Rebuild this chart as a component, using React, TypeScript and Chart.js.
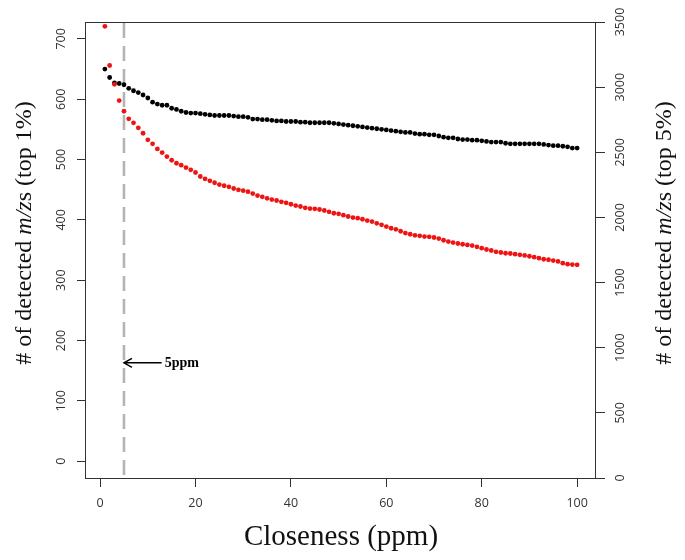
import React, { useEffect, useRef } from "react";
import { Chart, registerables } from "chart.js";

Chart.register(...registerables);

// Closeness threshold (ppm) on the x axis
const closenessPpm = [
  1, 2, 3, 4, 5, 6, 7, 8, 9, 10, 11, 12, 13, 14, 15, 16, 17, 18, 19, 20,
  21, 22, 23, 24, 25, 26, 27, 28, 29, 30, 31, 32, 33, 34, 35, 36, 37, 38, 39, 40,
  41, 42, 43, 44, 45, 46, 47, 48, 49, 50, 51, 52, 53, 54, 55, 56, 57, 58, 59, 60,
  61, 62, 63, 64, 65, 66, 67, 68, 69, 70, 71, 72, 73, 74, 75, 76, 77, 78, 79, 80,
  81, 82, 83, 84, 85, 86, 87, 88, 89, 90, 91, 92, 93, 94, 95, 96, 97, 98, 99, 100,
];

// Black series: # of detected m/zs (top 1%), left axis
const top1Counts = [
  650, 636, 627, 626, 624, 618, 614, 611, 607, 602, 595, 592, 590, 590, 585, 583, 580, 578, 577, 577,
  576, 575, 574, 573, 573, 573, 573, 572, 571, 571, 570, 567, 567, 566, 566, 565, 564, 564, 563, 563,
  563, 562, 562, 561, 561, 561, 561, 561, 560, 559, 558, 557, 556, 555, 554, 553, 552, 551, 550, 549,
  548, 547, 546, 545, 545, 543, 542, 542, 541, 541, 539, 537, 536, 536, 534, 533, 533, 532, 532, 531,
  530, 529, 529, 529, 527, 526, 526, 526, 526, 526, 526, 526, 525, 524, 523, 523, 522, 521, 519, 519,
];

// Red series: # of detected m/zs (top 5%), right axis
const top5Counts = [
  3467, 3166, 3022, 2897, 2815, 2757, 2726, 2688, 2646, 2596, 2565, 2526, 2498, 2467, 2439, 2416, 2401, 2383, 2365, 2345,
  2314, 2296, 2281, 2266, 2252, 2243, 2235, 2222, 2212, 2205, 2198, 2183, 2168, 2158, 2147, 2137, 2130, 2120, 2112, 2101,
  2091, 2084, 2074, 2068, 2066, 2061, 2053, 2043, 2032, 2028, 2017, 2007, 1999, 1994, 1986, 1976, 1968, 1955, 1943, 1930,
  1917, 1909, 1894, 1880, 1871, 1863, 1859, 1853, 1851, 1846, 1838, 1825, 1815, 1807, 1800, 1794, 1789, 1784, 1774, 1764,
  1754, 1746, 1736, 1731, 1725, 1723, 1718, 1713, 1708, 1702, 1695, 1687, 1679, 1675, 1669, 1662, 1649, 1641, 1638, 1636,
];

const xTickValues = [0, 20, 40, 60, 80, 100];
const leftTickValues = [0, 100, 200, 300, 400, 500, 600, 700];
const rightTickValues = [0, 500, 1000, 1500, 2000, 2500, 3000, 3500];

const cutoffPpm = 5;
const arrowLevel = 163; // left-axis value where the arrow sits
const arrowTailPpm = 12.9;
const annotationText = "5ppm";

const TICK_FONT = '"Open Sans", "Liberation Sans", sans-serif';
const SERIF = '"Liberation Serif", "Times New Roman", serif';
const AXIS_COLOR = "#333333";

function drawMixed(ctx: CanvasRenderingContext2D, parts: [string, boolean][], size: number) {
  const fontFor = (it: boolean) => `${it ? "italic " : ""}${size}px ${SERIF}`;
  let total = 0;
  const widths = parts.map(([t, it]) => {
    ctx.font = fontFor(it);
    const w = ctx.measureText(t).width;
    total += w;
    return w;
  });
  let x = -total / 2;
  ctx.textAlign = "left";
  ctx.textBaseline = "alphabetic";
  parts.forEach(([t, it], i) => {
    ctx.font = fontFor(it);
    ctx.fillText(t, x, 0);
    x += widths[i];
  });
}

const overlayPlugin = {
  id: "overlay",
  beforeDatasetsDraw(chart: any) {
    const { ctx, chartArea: a, scales } = chart;
    const x = scales.x.getPixelForValue(cutoffPpm);
    ctx.save();
    ctx.strokeStyle = "#b4b4b4";
    ctx.lineWidth = 2.6;
    ctx.setLineDash([15, 8]);
    ctx.beginPath();
    ctx.moveTo(x, a.top + 1);
    ctx.lineTo(x, a.bottom);
    ctx.stroke();
    ctx.restore();
  },
  afterDraw(chart: any) {
    const { ctx, chartArea: a, scales } = chart;
    ctx.save();
    // frame box
    ctx.strokeStyle = AXIS_COLOR;
    ctx.lineWidth = 1;
    ctx.strokeRect(a.left - 0.5, a.top + 0.5, a.right - a.left, a.bottom - a.top);

    // y tick labels (rotated, R style)
    ctx.fillStyle = AXIS_COLOR;
    ctx.font = `12.5px ${TICK_FONT}`;
    const drawYLabels = (scale: any, cx: number) => {
      scale.ticks.forEach((t: any) => {
        const y = scale.getPixelForValue(t.value);
        ctx.save();
        ctx.translate(cx, y);
        ctx.rotate(-Math.PI / 2);
        ctx.textAlign = "center";
        ctx.textBaseline = "middle";
        ctx.fillText(String(t.value), 0, 0);
        ctx.restore();
      });
    };
    drawYLabels(scales.y, 61);
    drawYLabels(scales.y2, 620);

    // axis titles
    ctx.fillStyle = "#111111";
    const midY = 233;
    ctx.save();
    ctx.translate(31, midY);
    ctx.rotate(-Math.PI / 2);
    drawMixed(ctx, [["# of detected ", false], ["m/z", true], ["s (top 1%)", false]], 24);
    ctx.restore();

    ctx.save();
    ctx.translate(671, midY);
    ctx.rotate(-Math.PI / 2);
    drawMixed(ctx, [["# of detected ", false], ["m/z", true], ["s (top 5%)", false]], 24);
    ctx.restore();

    ctx.save();
    ctx.translate((a.left + a.right) / 2, 545);
    drawMixed(ctx, [["Closeness (ppm)", false]], 29);
    ctx.restore();

    // arrow + annotation
    const tipX = scales.x.getPixelForValue(cutoffPpm);
    const tailX = scales.x.getPixelForValue(arrowTailPpm);
    const ay = scales.y.getPixelForValue(arrowLevel);
    ctx.strokeStyle = "#000000";
    ctx.lineWidth = 1.5;
    ctx.beginPath();
    ctx.moveTo(tailX, ay);
    ctx.lineTo(tipX, ay);
    ctx.moveTo(tipX + 8, ay - 4.5);
    ctx.lineTo(tipX, ay);
    ctx.lineTo(tipX + 8, ay + 4.5);
    ctx.stroke();
    ctx.fillStyle = "#000000";
    ctx.font = `bold 14px ${SERIF}`;
    ctx.textAlign = "left";
    ctx.textBaseline = "alphabetic";
    ctx.fillText(annotationText, tailX + 3, ay + 4.5);
    ctx.restore();
  },
};

export default function App() {
  const canvasRef = useRef<HTMLCanvasElement | null>(null);

  useEffect(() => {
    const canvas = canvasRef.current;
    if (!canvas) return;
    const redPts = closenessPpm.map((x, i) => ({ x, y: top5Counts[i] }));
    const blackPts = closenessPpm.map((x, i) => ({ x, y: top1Counts[i] }));
    const chart = new Chart(canvas, {
      type: "scatter",
      data: {
        datasets: [
          {
            label: "top 5%",
            data: redPts,
            yAxisID: "y2",
            pointRadius: 2.4,
            pointBorderWidth: 0,
            pointBackgroundColor: "#ee1414",
            pointBorderColor: "#ee1414",
            showLine: false,
          },
          {
            label: "top 1%",
            data: blackPts,
            yAxisID: "y",
            pointRadius: 2.4,
            pointBorderWidth: 0,
            pointBackgroundColor: "#000000",
            pointBorderColor: "#000000",
            showLine: false,
          },
        ],
      },
      options: {
        animation: false,
        responsive: false,
        devicePixelRatio: 1,
        events: [],
        layout: { padding: { top: 22, left: 0, right: 0, bottom: 0 } },
        plugins: { legend: { display: false }, tooltip: { enabled: false }, title: { display: false } },
        scales: {
          x: {
            type: "linear",
            position: "bottom",
            min: -2.96,
            max: 103.96,
            afterBuildTicks: (s: any) => {
              s.ticks = xTickValues.map((v) => ({ value: v }));
            },
            afterFit: (s: any) => {
              s.height = 82;
            },
            grid: { drawOnChartArea: false, drawTicks: true, tickLength: 9, color: AXIS_COLOR, lineWidth: 1 },
            border: { display: false },
            ticks: {
              padding: 9,
              color: AXIS_COLOR,
              font: { family: TICK_FONT, size: 12.5 },
              maxRotation: 0,
              minRotation: 0,
              autoSkip: false,
            },
          },
          y: {
            type: "linear",
            position: "left",
            min: -28,
            max: 728,
            afterBuildTicks: (s: any) => {
              s.ticks = leftTickValues.map((v) => ({ value: v }));
            },
            afterFit: (s: any) => {
              s.width = 86;
            },
            grid: { drawOnChartArea: false, drawTicks: true, tickLength: 9, color: AXIS_COLOR, lineWidth: 1 },
            border: { display: false },
            ticks: { display: false },
          },
          y2: {
            type: "linear",
            position: "right",
            min: 0,
            max: 3500,
            afterBuildTicks: (s: any) => {
              s.ticks = rightTickValues.map((v) => ({ value: v }));
            },
            afterFit: (s: any) => {
              s.width = 89;
            },
            grid: { drawOnChartArea: false, drawTicks: true, tickLength: 9, color: AXIS_COLOR, lineWidth: 1 },
            border: { display: false },
            ticks: { display: false },
          },
        },
      },
      plugins: [overlayPlugin],
    });
    return () => chart.destroy();
  }, []);

  return (
    <div style={{ position: "absolute", left: 0, top: 0, width: 685, height: 560, background: "#ffffff" }}>
      <canvas ref={canvasRef} width={685} height={560} style={{ display: "block", width: 685, height: 560 }} />
    </div>
  );
}
